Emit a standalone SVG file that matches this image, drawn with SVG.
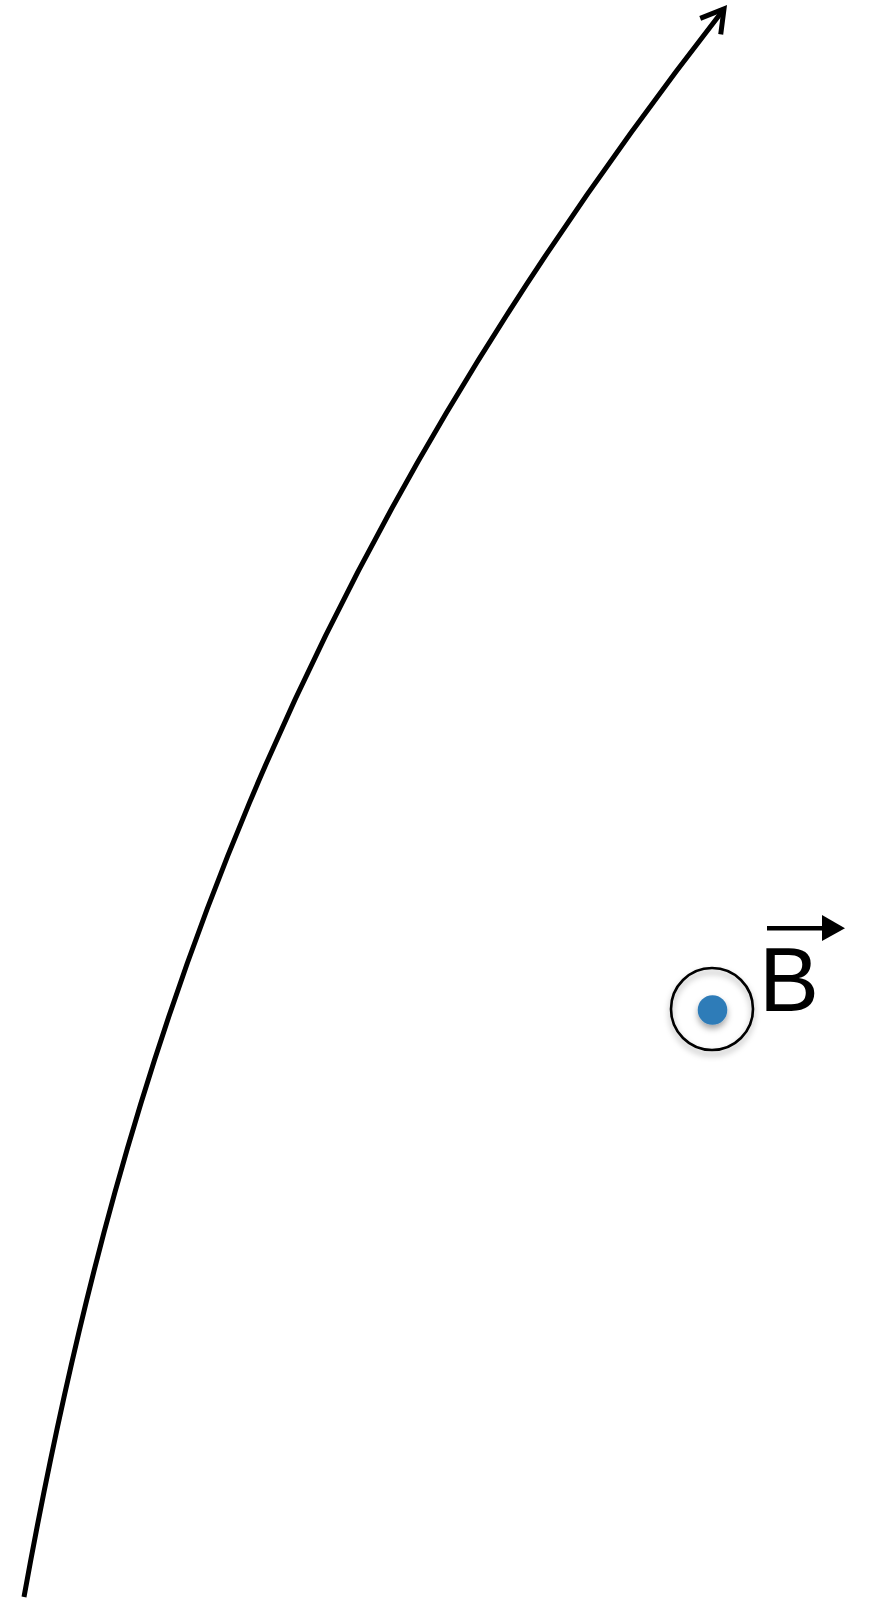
<svg xmlns="http://www.w3.org/2000/svg" width="872" height="1598" viewBox="0 0 872 1598">
<style>
.curve{fill:none;stroke:#000;stroke-width:5;}
.ring{fill:none;stroke:#000;stroke-width:2.6;}
.dot{fill:#2f7cb8;}
.lbl{font-family:"Liberation Sans",Arial,sans-serif;font-size:90px;fill:#000;}
</style>
<defs>
<marker id="open" markerUnits="userSpaceOnUse" markerWidth="60" markerHeight="60" viewBox="-30 -30 60 60" refX="0" refY="0" orient="auto">
<path d="M -22,-13 L 0,0 L -22,13" fill="none" stroke="#000" stroke-width="5" stroke-linejoin="miter"/>
</marker>
<filter id="sh" x="-50%" y="-50%" width="200%" height="200%">
<feDropShadow dx="0" dy="4" stdDeviation="3" flood-color="#000" flood-opacity="0.35"/>
</filter>
</defs>
<g id="connectors">
<path class="curve" d="M 24,1597 C 124,1042 292,563 724,9" marker-end="url(#open)"/>
</g>
<g id="field-symbol">
<circle class="ring" cx="712" cy="1009" r="41" filter="url(#sh)"/>
<circle class="dot" cx="712.5" cy="1010" r="14.8" filter="url(#sh)"/>
</g>
<g id="label-B">
<text class="lbl" x="759" y="1011">B</text>
<line x1="767" y1="928.3" x2="824" y2="928.3" stroke="#000" stroke-width="4.5"/>
<polygon points="822,915 845,928.3 822,941" fill="#000"/>
</g>
</svg>
